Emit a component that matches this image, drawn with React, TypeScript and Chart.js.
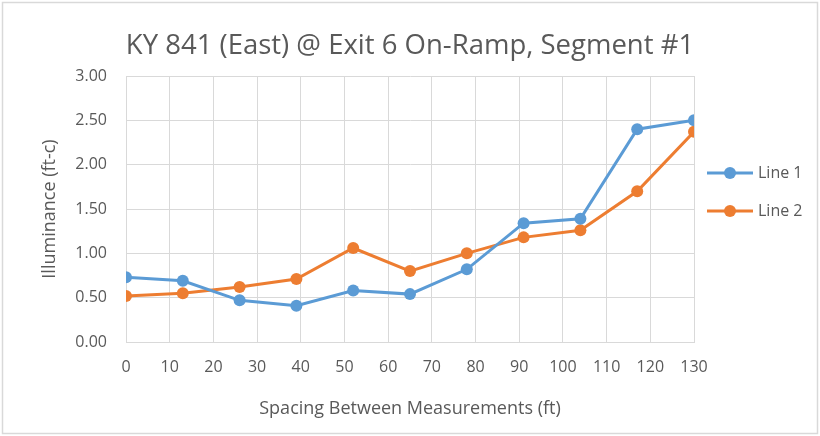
import React, { useEffect, useRef } from "react";
import { Chart, registerables } from "chart.js";

Chart.register(...registerables);

const chartTitle = "KY 841 (East) @ Exit 6 On-Ramp, Segment #1";
const xAxisTitle = "Spacing Between Measurements (ft)";
const yAxisTitle = "Illuminance (ft-c)";
const seriesNames = ["Line 1", "Line 2"];
const seriesColors = ["#5B9BD5", "#ED7D31"];
const xValues = [0, 13, 26, 39, 52, 65, 78, 91, 104, 117, 130];
const line1 = [0.73, 0.69, 0.47, 0.41, 0.58, 0.54, 0.82, 1.34, 1.39, 2.4, 2.5];
const line2 = [0.52, 0.55, 0.62, 0.71, 1.06, 0.8, 1.0, 1.18, 1.26, 1.7, 2.37];

const FONT = "'Open Sans', sans-serif";
const TEXT = "#595959";
const GRID = "#d9d9d9";

const frameAndLegend = {
  id: "frameAndLegend",
  beforeDraw(chart: any) {
    const ctx = chart.ctx;
    ctx.save();
    ctx.fillStyle = "#ffffff";
    ctx.fillRect(0, 0, chart.width, chart.height);
    ctx.restore();
  },
  afterDraw(chart: any) {
    const ctx = chart.ctx;
    ctx.save();
    ctx.strokeStyle = GRID;
    ctx.lineWidth = 1.5;
    ctx.strokeRect(2.5, 2.5, chart.width - 5, chart.height - 5);
    const area = chart.chartArea;
    const x0 = area.right + 13;
    chart.data.datasets.forEach((ds: any, i: number) => {
      const y = 173 + i * 38;
      ctx.strokeStyle = ds.borderColor;
      ctx.lineWidth = 3;
      ctx.beginPath();
      ctx.moveTo(x0, y);
      ctx.lineTo(x0 + 46, y);
      ctx.stroke();
      ctx.fillStyle = ds.backgroundColor;
      ctx.beginPath();
      ctx.arc(x0 + 23, y, 6, 0, Math.PI * 2);
      ctx.fill();
      ctx.fillStyle = TEXT;
      ctx.font = "16px " + FONT;
      ctx.textBaseline = "middle";
      ctx.textAlign = "left";
      ctx.fillText(ds.label, x0 + 51, y);
    });
    ctx.restore();
  },
};

export default function App() {
  const ref = useRef<HTMLCanvasElement | null>(null);
  useEffect(() => {
    if (!ref.current) return;
    const mk = (vals: number[]) => vals.map((v, i) => ({ x: xValues[i], y: v }));
    const chart = new Chart(ref.current, {
      type: "line",
      data: {
        datasets: [line1, line2].map((vals, i) => ({
          label: seriesNames[i],
          data: mk(vals),
          borderColor: seriesColors[i],
          backgroundColor: seriesColors[i],
          pointBackgroundColor: seriesColors[i],
          pointBorderColor: seriesColors[i],
          borderWidth: 3,
          pointRadius: 6,
          pointBorderWidth: 0,
          tension: 0,
        })),
      },
      options: {
        responsive: false,
        animation: false,
        layout: { padding: 0 },
        plugins: {
          legend: { display: false },
          tooltip: { enabled: false },
          title: {
            display: true,
            text: chartTitle,
            color: TEXT,
            font: { family: FONT, size: 27.5, weight: "normal", lineHeight: 1.2 },
            padding: { top: 29.5, bottom: 13.5 },
          },
        },
        scales: {
          x: {
            type: "linear",
            min: 0,
            max: 130,
            afterFit: (s: any) => {
              s.height = 94;
            },
            ticks: {
              stepSize: 10,
              color: TEXT,
              padding: 16,
              maxRotation: 0,
              font: { family: FONT, size: 16 },
            },
            grid: { color: GRID, lineWidth: 1, drawTicks: false },
            border: { color: GRID, width: 1 },
            title: {
              display: true,
              text: xAxisTitle,
              color: TEXT,
              font: { family: FONT, size: 18, lineHeight: 1.2 },
              padding: { top: 0, bottom: 16 },
            },
          },
          y: {
            min: 0,
            max: 3,
            afterFit: (s: any) => {
              s.width = 126;
            },
            ticks: {
              stepSize: 0.5,
              color: TEXT,
              padding: 19,
              font: { family: FONT, size: 16 },
              callback: (v: any) => Number(v).toFixed(2),
            },
            grid: { color: GRID, lineWidth: 1, drawTicks: false },
            border: { color: GRID, width: 1 },
            title: {
              display: true,
              text: yAxisTitle,
              color: TEXT,
              font: { family: FONT, size: 18, lineHeight: 1.2 },
              padding: { top: 39, bottom: 0 },
            },
          },
          legendSpace: {
            type: "linear",
            position: "right",
            display: true,
            min: 0,
            max: 3,
            afterFit: (s: any) => {
              s.width = 126;
            },
            ticks: { display: false },
            grid: { display: false, drawTicks: false },
            border: { display: false },
          },
        },
      },
      plugins: [frameAndLegend],
    });
    return () => chart.destroy();
  }, []);
  return (
    <div style={{ position: "absolute", left: 0, top: 0, width: 820, height: 436 }}>
      <canvas ref={ref} width={820} height={436} style={{ display: "block" }} />
    </div>
  );
}
